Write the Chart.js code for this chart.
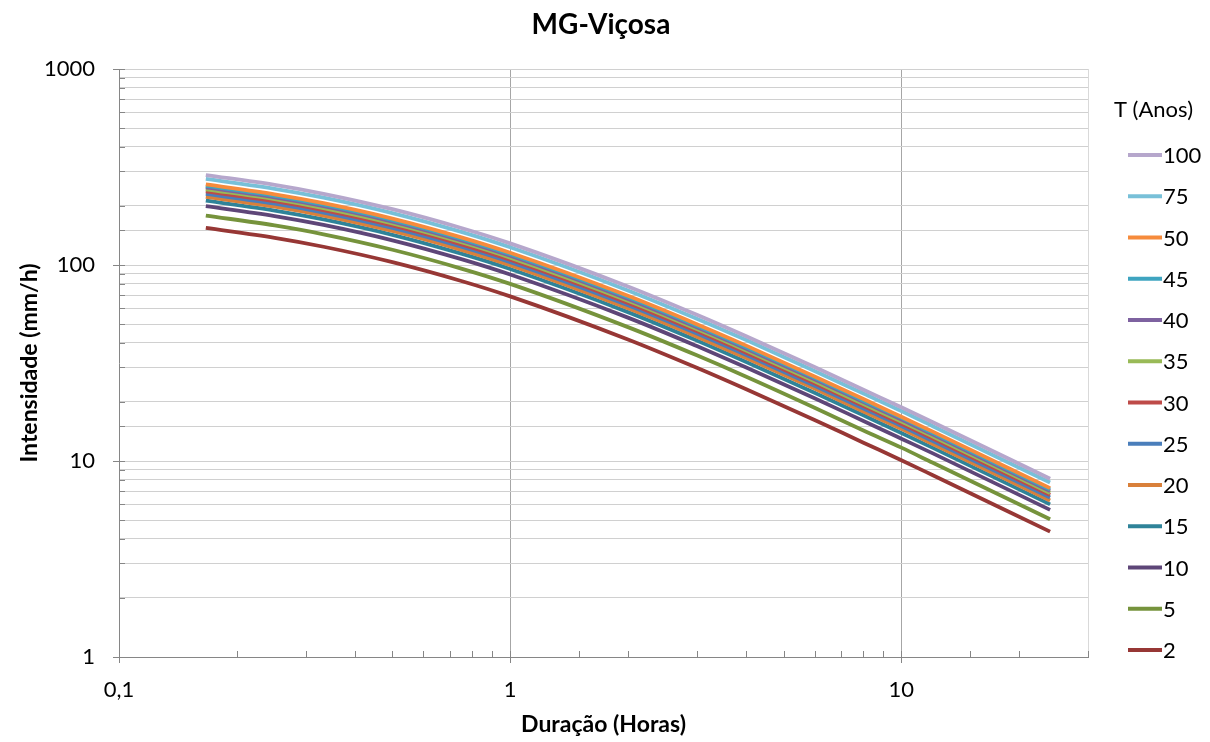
<!DOCTYPE html>
<html>
<head>
<meta charset="utf-8">
<title>MG-Viçosa</title>
<script src="https://cdn.jsdelivr.net/npm/chart.js@4"></script>
<style>
  html, body { margin: 0; padding: 0; background: #fff; }
  #wrap { width: 1210px; height: 742px; }
</style>
</head>
<body>
<div id="wrap"><canvas id="idf"></canvas></div>
<script>
// Durações (horas): 10, 15, 20, 30, 45 min, 1 ... 24 h
const DURACAO = [0.1667, 0.25, 0.3333, 0.5, 0.75, 1, 2, 3, 4, 6, 8, 10, 12, 24];

// Intensidades (mm/h), por período de retorno
const I_100 = [287.8, 256.2, 230.8, 192.6, 154.4, 128.9, 77.7, 55.7, 43.4, 30.2, 23.1, 18.8, 15.82, 8.12];
const I_75  = [274.9, 244.6, 220.4, 183.9, 147.5, 123.1, 74.2, 53.2, 41.5, 28.8, 22.1, 18.0, 15.10, 7.76];
const I_50  = [257.7, 229.4, 206.7, 172.5, 138.3, 115.4, 69.6, 49.9, 38.9, 27.0, 20.7, 16.8, 14.16, 7.27];
const I_45  = [253.4, 225.5, 203.2, 169.6, 136.0, 113.5, 68.4, 49.0, 38.2, 26.6, 20.3, 16.6, 13.92, 7.15];
const I_40  = [248.7, 221.4, 199.5, 166.5, 133.5, 111.4, 67.1, 48.1, 37.5, 26.1, 20.0, 16.3, 13.67, 7.02];
const I_35  = [243.5, 216.7, 195.3, 163.0, 130.7, 109.1, 65.7, 47.1, 36.7, 25.5, 19.5, 15.9, 13.38, 6.87];
const I_30  = [237.6, 211.5, 190.6, 159.0, 127.5, 106.4, 64.1, 46.0, 35.8, 24.9, 19.1, 15.5, 13.06, 6.71];
const I_25  = [230.8, 205.4, 185.1, 154.5, 123.9, 103.4, 62.3, 44.7, 34.8, 24.2, 18.5, 15.1, 12.68, 6.51];
const I_20  = [222.8, 198.3, 178.7, 149.1, 119.5, 99.8, 60.1, 43.1, 33.6, 23.4, 17.9, 14.6, 12.24, 6.29];
const I_15  = [212.9, 189.5, 170.7, 142.5, 114.2, 95.4, 57.5, 41.2, 32.1, 22.3, 17.1, 13.9, 11.70, 6.01];
const I_10  = [199.6, 177.7, 160.1, 133.6, 107.1, 89.4, 53.9, 38.6, 30.1, 20.9, 16.0, 13.0, 10.97, 5.63];
const I_5   = [178.8, 159.1, 143.4, 119.6, 95.9, 80.1, 48.2, 34.6, 27.0, 18.7, 14.3, 11.7, 9.82, 5.04];
const I_2   = [154.5, 137.5, 123.9, 103.4, 82.9, 69.2, 41.7, 29.9, 23.3, 16.2, 12.4, 10.1, 8.49, 4.36];

const PERIODOS = ["100", "75", "50", "45", "40", "35", "30", "25", "20", "15", "10", "5", "2"];
const SERIES = [I_100, I_75, I_50, I_45, I_40, I_35, I_30, I_25, I_20, I_15, I_10, I_5, I_2];
const CORES = ["#B6A7CC", "#78C0D8", "#F68B3C", "#3EA4C0", "#7E62A0", "#99BA57",
               "#BE4B48", "#4A7EBB", "#D9803A", "#2F8399", "#5E4678", "#76933C", "#973735"];

const FONTE = "Lato, 'Liberation Sans', sans-serif";

function isPot10(v) {
  const l = Math.log10(v);
  return Math.abs(l - Math.round(l)) < 1e-6;
}

// título centrado na figura + legenda no estilo do Excel, à direita
const tituloLegenda = {
  id: "tituloLegenda",
  afterDraw(chart) {
    const ctx = chart.ctx;
    ctx.save();
    ctx.fillStyle = "#000";
    ctx.textBaseline = "middle";
    ctx.textAlign = "center";
    ctx.font = "bold 28px " + FONTE;
    ctx.fillText("MG-Viçosa", 601, 25);

    ctx.font = "22px " + FONTE;
    ctx.textAlign = "left";
    ctx.fillText("T (Anos)", 1114, 110);
    PERIODOS.forEach((p, i) => {
      const y = 155 + i * 41.25;
      ctx.strokeStyle = CORES[i];
      ctx.lineWidth = 4;
      ctx.beginPath();
      ctx.moveTo(1128, y);
      ctx.lineTo(1162, y);
      ctx.stroke();
      ctx.fillText(p, 1163, y + 1);
    });
    ctx.restore();
  }
};

// marcas de escala (maiores cruzam o eixo, menores para dentro)
const marcas = {
  id: "marcas",
  afterDatasetsDraw(chart) {
    const ctx = chart.ctx;
    const a = chart.chartArea;
    const sx = chart.scales.x, sy = chart.scales.y;
    ctx.save();
    ctx.strokeStyle = "#868686";
    ctx.lineWidth = 1;
    ctx.beginPath();
    sx.ticks.forEach(t => {
      const px = Math.round(sx.getPixelForValue(t.value)) + 0.5;
      if (isPot10(t.value)) { ctx.moveTo(px, a.bottom - 6); ctx.lineTo(px, a.bottom + 6); }
      else { ctx.moveTo(px, a.bottom - 6); ctx.lineTo(px, a.bottom); }
    });
    sy.ticks.forEach(t => {
      const py = Math.round(sy.getPixelForValue(t.value)) + 0.5;
      if (isPot10(t.value)) { ctx.moveTo(a.left - 6, py); ctx.lineTo(a.left + 6, py); }
      else { ctx.moveTo(a.left, py); ctx.lineTo(a.left + 6, py); }
    });
    ctx.stroke();
    ctx.restore();
  }
};

const datasets = SERIES.map((s, i) => ({
  label: PERIODOS[i],
  data: DURACAO.map((d, j) => ({ x: d, y: s[j] })),
  borderColor: CORES[i],
  backgroundColor: CORES[i],
  borderWidth: 3.8,
  pointRadius: 0,
  tension: 0.35,
  cubicInterpolationMode: "monotone",
  fill: false
}));

new Chart(document.getElementById("idf"), {
  type: "line",
  data: { datasets },
  plugins: [tituloLegenda, marcas],
  options: {
    responsive: true,
    maintainAspectRatio: false,
    animation: false,
    layout: { padding: { left: 8, right: 122, top: 69, bottom: 4 } },
    plugins: {
      legend: { display: false },
      tooltip: { enabled: false },
      title: { display: false }
    },
    scales: {
      x: {
        type: "logarithmic",
        min: 0.1,
        max: 30,
        afterFit(scale) { scale.height = 81; },
        border: { color: "#868686" },
        grid: {
          drawTicks: false,
          color: c => {
            const v = c.tick.value;
            if (v === 30) return "#d9d9d9";
            return (isPot10(v) && v > 0.11) ? "#a6a6a6" : "rgba(0,0,0,0)";
          }
        },
        ticks: {
          autoSkip: false,
          maxRotation: 0,
          padding: 20,
          color: "#000",
          font: { family: FONTE, size: 22 },
          callback: v => isPot10(v) ? String(+v.toPrecision(3)).replace(".", ",") : ""
        },
        title: {
          display: true,
          text: "Duração (Horas)",
          color: "#000",
          font: { family: FONTE, size: 23, weight: "bold" },
          padding: { top: 4, bottom: 0 }
        }
      },
      y: {
        type: "logarithmic",
        min: 1,
        max: 1000,
        afterFit(scale) { scale.width = 111; },
        border: { color: "#868686" },
        grid: {
          drawTicks: false,
          color: "#d0d0d0"
        },
        ticks: {
          autoSkip: false,
          padding: 24,
          color: "#000",
          font: { family: FONTE, size: 22 },
          callback: v => isPot10(v) ? String(Math.round(v)) : ""
        },
        title: {
          display: true,
          text: "Intensidade (mm/h)",
          color: "#000",
          font: { family: FONTE, size: 23, weight: "bold" },
          padding: { top: 8, bottom: 0 }
        }
      }
    }
  }
});
</script>
</body>
</html>
